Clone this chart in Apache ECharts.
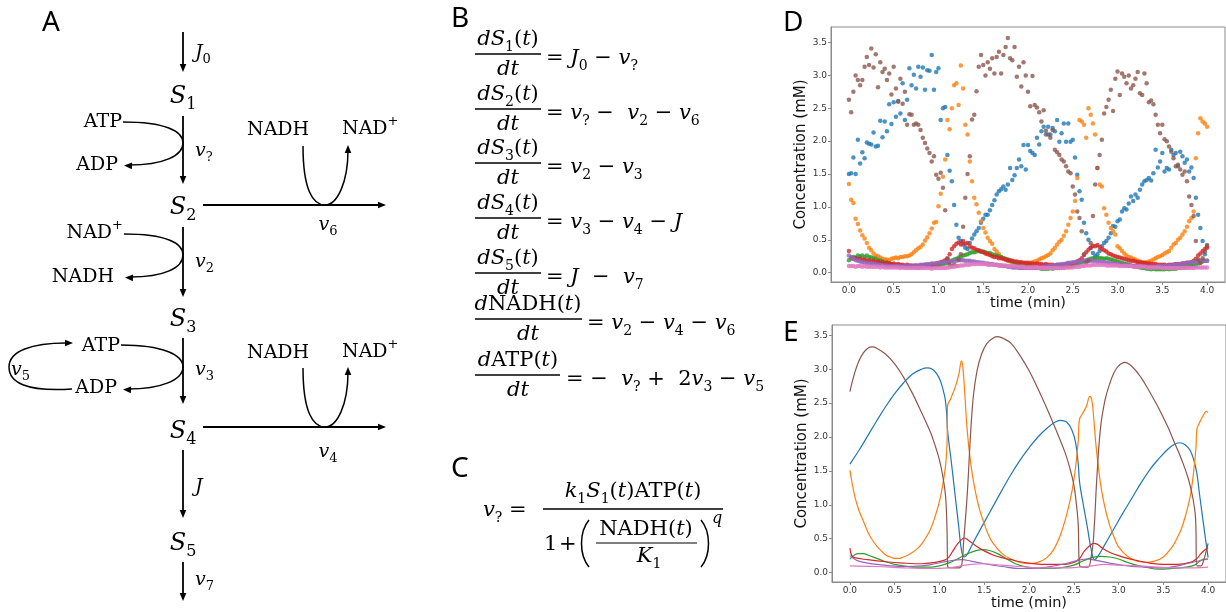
<!doctype html>
<html>
<head>
<meta charset="utf-8">
<title>glycolysis model</title>
<script src="https://cdn.jsdelivr.net/npm/echarts@6/dist/echarts.min.js"></script>
<style>
html, body { margin: 0; padding: 0; background: #fff; }
#main { width: 1226px; height: 612px; }
</style>
</head>
<body>
<div id="main"></div>
<script>
// ---- panel D: sampled data, one value every 0.025 min (rows = 0.25 min) ----
var dTime = [];
for (var i = 0; i <= 160; i++) dTime.push(i / 40);

var dBlue = [
  1.50, 1.51, 1.75, 1.50, 2.02, 1.66, 1.83, 1.74, 1.98, 1.96,
  1.95, 2.13, 1.92, 1.93, 2.31, 2.06, 2.30, 2.15, 2.56, 2.26,
  2.59, 2.37, 2.61, 2.42, 2.88, 2.32, 2.63, 3.11, 2.85, 3.01,
  2.80, 3.13, 2.98, 3.12, 2.78, 3.08, 3.07, 3.31, 2.78, 3.05,
  3.11, 2.32, 2.50, 2.52, 1.79, 1.55, 1.39, 1.03, 0.73, 0.53,
  0.48, 0.43, 0.38, 0.36, 0.45, 0.52, 0.58, 0.63, 0.68, 0.76,
  0.82, 0.88, 0.88, 0.95, 1.03, 1.10, 1.19, 1.24, 1.27, 1.31,
  1.26, 1.34, 1.59, 1.41, 1.48, 1.59, 1.72, 1.62, 1.94, 1.57,
  1.94, 1.85, 1.82, 1.79, 2.05, 1.95, 2.15, 2.22, 2.10, 2.22,
  2.10, 2.20, 2.15, 2.32, 1.99, 2.12, 2.27, 1.99, 2.27, 1.99,
  2.02, 1.75, 1.49, 1.24, 1.11, 0.76, 0.60, 0.50, 0.38, 0.30,
  0.25, 0.28, 0.33, 0.40, 0.45, 0.48, 0.53, 0.60, 0.71, 0.70,
  0.78, 0.81, 0.93, 0.98, 0.96, 1.05, 1.16, 1.09, 1.19, 1.14,
  1.26, 1.34, 1.39, 1.41, 1.44, 1.40, 1.51, 1.87, 1.60, 1.69,
  1.82, 1.54, 1.59, 1.57, 1.87, 1.79, 1.82, 1.62, 1.84, 1.77,
  1.67, 1.72, 1.54, 1.60, 1.44, 1.14, 0.88, 0.68, 0.48, 0.28,
  0.40
];
var dOrange = [
  1.35, 1.11, 1.06, 0.82, 0.74, 0.64, 0.57, 0.52, 0.45, 0.38,
  0.34, 0.29, 0.26, 0.25, 0.23, 0.21, 0.20, 0.20, 0.19, 0.21,
  0.22, 0.23, 0.22, 0.24, 0.24, 0.25, 0.25, 0.26, 0.28, 0.31,
  0.34, 0.37, 0.39, 0.43, 0.49, 0.54, 0.60, 0.67, 0.76, 0.77,
  1.01, 1.20, 1.46, 1.72, 2.32, 2.18, 2.50, 2.85, 2.88, 2.55,
  3.15, 2.80, 2.25, 2.10, 1.69, 1.39, 1.14, 1.04, 0.91, 0.78,
  0.68, 0.61, 0.53, 0.48, 0.44, 0.36, 0.32, 0.28, 0.24, 0.22,
  0.20, 0.18, 0.17, 0.16, 0.15, 0.15, 0.14, 0.15, 0.14, 0.13,
  0.14, 0.15, 0.16, 0.17, 0.18, 0.20, 0.22, 0.23, 0.25, 0.27,
  0.29, 0.34, 0.38, 0.43, 0.47, 0.50, 0.56, 0.63, 0.73, 0.83,
  0.93, 1.09, 1.44, 2.32, 2.30, 2.25, 2.05, 2.50, 2.40, 2.27,
  2.10, 1.59, 1.34, 1.31, 0.98, 0.88, 0.76, 0.68, 0.63, 0.58,
  0.40, 0.37, 0.33, 0.29, 0.26, 0.24, 0.23, 0.21, 0.20, 0.18,
  0.17, 0.16, 0.15, 0.16, 0.17, 0.18, 0.20, 0.22, 0.24, 0.25,
  0.27, 0.29, 0.31, 0.33, 0.38, 0.43, 0.45, 0.50, 0.53, 0.58,
  0.63, 0.70, 0.78, 0.83, 0.93, 1.74, 2.12, 2.35, 2.30, 2.27,
  2.22
];
var dGreen = [
  0.19, 0.22, 0.24, 0.23, 0.26, 0.25, 0.26, 0.24, 0.26, 0.24,
  0.23, 0.22, 0.21, 0.19, 0.18, 0.17, 0.15, 0.15, 0.14, 0.13,
  0.12, 0.12, 0.11, 0.11, 0.10, 0.10, 0.09, 0.10, 0.09, 0.09,
  0.09, 0.08, 0.09, 0.09, 0.09, 0.10, 0.10, 0.10, 0.11, 0.11,
  0.11, 0.12, 0.13, 0.14, 0.15, 0.17, 0.18, 0.20, 0.21, 0.23,
  0.24, 0.26, 0.27, 0.28, 0.30, 0.31, 0.31, 0.32, 0.33, 0.32,
  0.32, 0.31, 0.30, 0.30, 0.28, 0.27, 0.26, 0.25, 0.24, 0.22,
  0.21, 0.20, 0.18, 0.17, 0.15, 0.14, 0.13, 0.12, 0.11, 0.10,
  0.10, 0.09, 0.08, 0.08, 0.07, 0.07, 0.06, 0.06, 0.06, 0.06,
  0.07, 0.06, 0.07, 0.07, 0.07, 0.08, 0.08, 0.09, 0.09, 0.10,
  0.11, 0.12, 0.13, 0.14, 0.16, 0.17, 0.18, 0.20, 0.21, 0.22,
  0.22, 0.23, 0.22, 0.22, 0.21, 0.22, 0.21, 0.20, 0.19, 0.18,
  0.17, 0.16, 0.15, 0.14, 0.13, 0.12, 0.11, 0.10, 0.09, 0.09,
  0.08, 0.07, 0.07, 0.06, 0.06, 0.05, 0.06, 0.05, 0.05, 0.05,
  0.05, 0.05, 0.06, 0.05, 0.06, 0.06, 0.06, 0.07, 0.07, 0.08,
  0.08, 0.09, 0.09, 0.10, 0.11, 0.12, 0.14, 0.15, 0.17, 0.18,
  0.18
];
var dRed = [
  0.33, 0.23, 0.21, 0.22, 0.20, 0.21, 0.19, 0.20, 0.18, 0.19,
  0.17, 0.18, 0.16, 0.17, 0.15, 0.16, 0.14, 0.15, 0.14, 0.13,
  0.14, 0.12, 0.13, 0.12, 0.12, 0.11, 0.12, 0.11, 0.11, 0.10,
  0.11, 0.10, 0.11, 0.11, 0.12, 0.11, 0.12, 0.13, 0.12, 0.14,
  0.14, 0.16, 0.17, 0.19, 0.21, 0.28, 0.36, 0.40, 0.44, 0.46,
  0.43, 0.48, 0.44, 0.45, 0.40, 0.38, 0.37, 0.35, 0.34, 0.32,
  0.31, 0.29, 0.28, 0.27, 0.25, 0.24, 0.24, 0.22, 0.22, 0.21,
  0.20, 0.19, 0.19, 0.18, 0.17, 0.17, 0.16, 0.16, 0.15, 0.15,
  0.15, 0.14, 0.14, 0.13, 0.14, 0.13, 0.13, 0.12, 0.13, 0.12,
  0.12, 0.12, 0.11, 0.12, 0.12, 0.11, 0.12, 0.12, 0.13, 0.13,
  0.14, 0.15, 0.17, 0.19, 0.22, 0.27, 0.31, 0.35, 0.38, 0.41,
  0.40, 0.42, 0.39, 0.36, 0.34, 0.32, 0.29, 0.28, 0.26, 0.25,
  0.24, 0.23, 0.22, 0.21, 0.20, 0.19, 0.18, 0.18, 0.17, 0.16,
  0.16, 0.15, 0.15, 0.14, 0.14, 0.13, 0.13, 0.13, 0.12, 0.12,
  0.12, 0.12, 0.11, 0.12, 0.12, 0.12, 0.13, 0.13, 0.13, 0.14,
  0.14, 0.15, 0.15, 0.16, 0.18, 0.21, 0.26, 0.29, 0.33, 0.36,
  0.38
];
var dPurple = [
  0.26, 0.23, 0.21, 0.19, 0.18, 0.17, 0.16, 0.15, 0.15, 0.14,
  0.14, 0.13, 0.13, 0.12, 0.12, 0.11, 0.11, 0.11, 0.10, 0.10,
  0.10, 0.10, 0.10, 0.10, 0.09, 0.10, 0.10, 0.10, 0.10, 0.11,
  0.11, 0.11, 0.12, 0.12, 0.12, 0.13, 0.13, 0.14, 0.14, 0.14,
  0.15, 0.15, 0.16, 0.16, 0.17, 0.17, 0.18, 0.18, 0.18, 0.19,
  0.19, 0.19, 0.18, 0.18, 0.18, 0.17, 0.17, 0.16, 0.16, 0.15,
  0.15, 0.14, 0.14, 0.13, 0.13, 0.12, 0.12, 0.11, 0.11, 0.10,
  0.10, 0.09, 0.09, 0.08, 0.08, 0.08, 0.07, 0.07, 0.07, 0.07,
  0.07, 0.07, 0.07, 0.07, 0.08, 0.08, 0.08, 0.09, 0.09, 0.10,
  0.10, 0.11, 0.11, 0.12, 0.12, 0.13, 0.13, 0.14, 0.15, 0.15,
  0.16, 0.16, 0.17, 0.17, 0.18, 0.18, 0.19, 0.19, 0.18, 0.18,
  0.18, 0.17, 0.17, 0.16, 0.16, 0.15, 0.15, 0.14, 0.14, 0.13,
  0.13, 0.12, 0.12, 0.12, 0.11, 0.11, 0.11, 0.10, 0.10, 0.10,
  0.10, 0.09, 0.09, 0.09, 0.09, 0.09, 0.09, 0.09, 0.10, 0.10,
  0.10, 0.10, 0.11, 0.11, 0.11, 0.12, 0.12, 0.13, 0.13, 0.14,
  0.14, 0.15, 0.15, 0.16, 0.16, 0.17, 0.17, 0.18, 0.18, 0.18,
  0.18
];
var dBrown = [
  2.63, 2.44, 2.75, 3.00, 2.93, 2.85, 2.93, 3.13, 3.28, 3.16,
  3.41, 3.12, 3.32, 2.82, 3.20, 3.05, 3.10, 2.93, 3.03, 2.71,
  3.13, 2.80, 2.60, 2.95, 2.57, 2.75, 2.25, 2.41, 2.40, 2.25,
  2.27, 2.25, 2.17, 2.05, 1.97, 1.89, 1.82, 1.69, 1.77, 1.49,
  1.43, 1.52, 1.29, 0.95, 0.22, 0.12, 0.10, 0.12, 0.10, 0.20,
  0.28, 0.70, 1.14, 1.50, 1.77, 2.33, 2.40, 2.76, 3.13, 3.31,
  3.16, 3.00, 3.20, 3.10, 3.26, 3.03, 3.28, 3.36, 3.03, 3.31,
  3.43, 3.57, 3.26, 3.23, 3.43, 2.98, 3.13, 2.83, 3.20, 3.00,
  2.75, 2.53, 2.99, 2.55, 2.51, 2.44, 2.30, 2.47, 2.16, 2.10,
  2.05, 2.17, 1.87, 1.83, 1.79, 1.72, 1.69, 1.62, 1.54, 1.51,
  1.31, 1.19, 0.93, 0.83, 0.63, 0.28, 0.15, 0.18, 0.45, 0.86,
  1.34, 1.59, 1.79, 2.02, 2.42, 2.52, 2.63, 2.78, 2.46, 2.95,
  3.06, 2.70, 3.03, 2.98, 2.88, 3.00, 2.80, 2.85, 2.95, 3.05,
  2.73, 2.70, 3.03, 2.88, 2.59, 2.62, 2.56, 2.40, 2.25, 2.12,
  2.25, 2.03, 2.00, 1.92, 1.84, 1.74, 1.62, 1.64, 1.57, 1.49,
  1.54, 1.39, 1.16, 1.03, 0.86, 0.48, 0.20, 0.15, 0.22, 0.32,
  0.42
];
var dPink = [
  0.10, 0.10, 0.10, 0.09, 0.10, 0.10, 0.09, 0.10, 0.09, 0.09,
  0.09, 0.09, 0.09, 0.09, 0.08, 0.09, 0.08, 0.08, 0.08, 0.08,
  0.08, 0.08, 0.08, 0.07, 0.08, 0.07, 0.07, 0.07, 0.07, 0.07,
  0.07, 0.07, 0.07, 0.07, 0.07, 0.07, 0.07, 0.06, 0.07, 0.07,
  0.07, 0.07, 0.07, 0.07, 0.08, 0.08, 0.09, 0.09, 0.10, 0.10,
  0.11, 0.11, 0.12, 0.12, 0.12, 0.13, 0.13, 0.13, 0.13, 0.13,
  0.13, 0.13, 0.12, 0.12, 0.12, 0.12, 0.12, 0.11, 0.11, 0.11,
  0.11, 0.10, 0.10, 0.10, 0.10, 0.09, 0.09, 0.09, 0.09, 0.08,
  0.08, 0.08, 0.08, 0.08, 0.08, 0.07, 0.07, 0.07, 0.07, 0.07,
  0.07, 0.07, 0.07, 0.07, 0.07, 0.07, 0.07, 0.08, 0.08, 0.08,
  0.08, 0.09, 0.09, 0.09, 0.10, 0.10, 0.11, 0.11, 0.11, 0.12,
  0.12, 0.12, 0.12, 0.12, 0.12, 0.11, 0.11, 0.11, 0.11, 0.11,
  0.11, 0.10, 0.10, 0.10, 0.10, 0.10, 0.10, 0.09, 0.09, 0.09,
  0.09, 0.09, 0.09, 0.08, 0.08, 0.08, 0.08, 0.08, 0.08, 0.08,
  0.07, 0.07, 0.07, 0.07, 0.07, 0.07, 0.07, 0.07, 0.07, 0.07,
  0.07, 0.07, 0.07, 0.07, 0.07, 0.08, 0.08, 0.08, 0.08, 0.08,
  0.08
];

// ---- panel E: fitted curves, [time, value] ----
var eBlue = [[0,1.60],[0.1,1.80],[0.2,2.02],[0.3,2.24],[0.4,2.45],[0.5,2.64],[0.6,2.80],[0.7,2.93],[0.8,3.00],[0.86,3.02],[0.92,3.00],[0.97,2.93],[1.01,2.83],[1.04,2.70],[1.065,2.55],[1.08,2.35],[1.09,2.10],[1.13,1.66],[1.17,1.20],[1.21,0.74],[1.25,0.30],[1.28,0.23],[1.31,0.27],[1.4,0.50],[1.5,0.74],[1.6,0.98],[1.7,1.22],[1.8,1.45],[1.9,1.66],[2.0,1.84],[2.1,2.00],[2.2,2.13],[2.28,2.21],[2.35,2.245],[2.42,2.22],[2.48,2.10],[2.52,1.92],[2.55,1.60],[2.565,1.33],[2.6,1.05],[2.65,0.68],[2.7,0.30],[2.73,0.19],[2.76,0.22],[2.85,0.42],[2.95,0.65],[3.05,0.88],[3.15,1.10],[3.25,1.32],[3.35,1.52],[3.45,1.68],[3.55,1.82],[3.62,1.89],[3.68,1.915],[3.74,1.89],[3.8,1.80],[3.84,1.66],[3.875,1.46],[3.9,1.20],[3.95,0.70],[4.0,0.22]];
var eOrange = [[0,1.51],[0.05,1.15],[0.1,0.92],[0.15,0.76],[0.2,0.60],[0.25,0.48],[0.3,0.39],[0.35,0.32],[0.4,0.26],[0.45,0.23],[0.5,0.21],[0.55,0.21],[0.6,0.23],[0.65,0.26],[0.7,0.30],[0.75,0.35],[0.8,0.42],[0.85,0.52],[0.9,0.64],[0.95,0.82],[1.0,1.05],[1.04,1.32],[1.07,1.60],[1.085,1.90],[1.09,2.45],[1.13,2.58],[1.18,2.75],[1.22,2.95],[1.245,3.12],[1.26,3.05],[1.28,2.70],[1.31,2.10],[1.35,1.60],[1.4,1.20],[1.45,0.92],[1.5,0.72],[1.55,0.55],[1.6,0.43],[1.7,0.28],[1.8,0.20],[1.9,0.15],[2.0,0.13],[2.1,0.15],[2.2,0.22],[2.28,0.35],[2.35,0.55],[2.42,0.85],[2.48,1.20],[2.52,1.55],[2.55,1.95],[2.562,2.25],[2.6,2.35],[2.64,2.45],[2.68,2.60],[2.7,2.55],[2.72,2.32],[2.75,1.85],[2.8,1.30],[2.85,0.95],[2.9,0.70],[2.95,0.52],[3.0,0.38],[3.1,0.24],[3.2,0.17],[3.3,0.15],[3.4,0.17],[3.5,0.23],[3.6,0.38],[3.65,0.50],[3.7,0.64],[3.75,0.85],[3.8,1.12],[3.84,1.50],[3.865,1.85],[3.875,2.12],[3.9,2.20],[3.93,2.28],[3.96,2.35],[3.98,2.38],[4.0,2.36]];
var eGreen = [[0,0.20],[0.05,0.26],[0.1,0.28],[0.15,0.28],[0.2,0.26],[0.3,0.21],[0.4,0.16],[0.5,0.12],[0.6,0.10],[0.7,0.08],[0.8,0.08],[0.9,0.08],[1.0,0.10],[1.1,0.14],[1.2,0.20],[1.3,0.27],[1.4,0.32],[1.48,0.34],[1.55,0.33],[1.65,0.28],[1.75,0.20],[1.85,0.13],[1.95,0.09],[2.05,0.07],[2.2,0.06],[2.35,0.07],[2.5,0.11],[2.6,0.17],[2.7,0.22],[2.8,0.24],[2.9,0.23],[3.0,0.20],[3.1,0.15],[3.2,0.11],[3.3,0.08],[3.45,0.05],[3.6,0.06],[3.75,0.08],[3.85,0.11],[3.9,0.16],[3.95,0.20],[4.0,0.20]];
var eRed = [[0,0.36],[0.02,0.25],[0.05,0.22],[0.2,0.19],[0.4,0.16],[0.6,0.14],[0.8,0.13],[0.95,0.15],[1.05,0.18],[1.1,0.22],[1.15,0.32],[1.2,0.42],[1.25,0.49],[1.28,0.51],[1.32,0.48],[1.4,0.40],[1.5,0.32],[1.6,0.26],[1.7,0.22],[1.8,0.19],[1.9,0.16],[2.0,0.14],[2.2,0.12],[2.4,0.12],[2.5,0.15],[2.56,0.20],[2.62,0.32],[2.68,0.40],[2.72,0.43],[2.76,0.42],[2.82,0.36],[2.9,0.30],[3.0,0.25],[3.1,0.21],[3.2,0.18],[3.35,0.14],[3.5,0.12],[3.65,0.12],[3.8,0.15],[3.87,0.20],[3.92,0.28],[3.96,0.33],[4.0,0.37]];
var ePurple = [[0,0.25],[0.05,0.20],[0.1,0.17],[0.2,0.14],[0.3,0.12],[0.45,0.10],[0.6,0.09],[0.8,0.10],[0.95,0.13],[1.1,0.17],[1.25,0.19],[1.35,0.17],[1.5,0.13],[1.7,0.09],[1.9,0.06],[2.05,0.06],[2.2,0.08],[2.4,0.13],[2.55,0.18],[2.65,0.20],[2.75,0.18],[2.9,0.14],[3.1,0.10],[3.3,0.08],[3.5,0.07],[3.7,0.11],[3.85,0.16],[4.0,0.20]];
var eBrown = [[0,2.67],[0.05,2.93],[0.1,3.12],[0.15,3.24],[0.2,3.31],[0.25,3.33],[0.3,3.31],[0.4,3.22],[0.5,3.08],[0.6,2.88],[0.7,2.64],[0.8,2.36],[0.9,2.07],[0.95,1.88],[1.0,1.66],[1.04,1.40],[1.07,1.10],[1.085,0.60],[1.093,0.08],[1.15,0.07],[1.22,0.07],[1.25,0.12],[1.27,0.45],[1.31,1.15],[1.35,2.10],[1.38,2.62],[1.42,2.98],[1.47,3.22],[1.53,3.38],[1.6,3.46],[1.65,3.48],[1.72,3.45],[1.8,3.38],[1.9,3.20],[2.0,2.98],[2.1,2.71],[2.2,2.42],[2.3,2.11],[2.4,1.78],[2.45,1.57],[2.5,1.30],[2.53,1.00],[2.55,0.70],[2.562,0.12],[2.6,0.08],[2.66,0.08],[2.69,0.20],[2.72,0.50],[2.76,1.45],[2.8,2.15],[2.85,2.55],[2.9,2.78],[2.95,2.95],[3.0,3.05],[3.07,3.10],[3.15,3.04],[3.25,2.88],[3.35,2.66],[3.45,2.42],[3.55,2.15],[3.63,1.90],[3.7,1.68],[3.78,1.38],[3.83,1.10],[3.86,0.80],[3.875,0.10],[3.92,0.10],[3.95,0.18],[3.98,0.32],[4.0,0.43]];
var ePink = [[0,0.10],[0.3,0.09],[0.6,0.07],[0.9,0.06],[1.1,0.07],[1.2,0.09],[1.35,0.12],[1.5,0.13],[1.7,0.11],[1.9,0.09],[2.1,0.07],[2.4,0.07],[2.55,0.08],[2.7,0.10],[2.85,0.12],[3.0,0.11],[3.2,0.10],[3.45,0.08],[3.7,0.07],[3.85,0.07],[4.0,0.08]];

var tickX = [0, 0.5, 1, 1.5, 2, 2.5, 3, 3.5, 4];
var tickY = [0, 0.5, 1, 1.5, 2, 2.5, 3, 3.5];
var COLORS = ['#1f77b4', '#ff7f0e', '#2ca02c', '#d62728', '#9467bd', '#8c564b', '#e377c2'];

// ---------- drawing helpers for panels A, B, C ----------
var INK = '#000';
var MF = 'DejaVu Serif';
var SF = 'Noto Sans';

function richSet(size) {
  var sub = Math.round(size * 0.68);
  return {
    r: { fontFamily: MF, fontSize: size, lineHeight: size + 8, fill: INK },
    i: { fontFamily: MF, fontSize: size, fontStyle: 'italic', lineHeight: size + 8, fill: INK },
    s: { fontFamily: MF, fontSize: sub, lineHeight: sub, verticalAlign: 'bottom', fill: INK },
    p: { fontFamily: MF, fontSize: sub, lineHeight: sub, verticalAlign: 'top', fill: INK }
  };
}
// '*x*' italic, '_c' subscript char, '^c' superscript char
function rt(s) {
  var out = '', buf = '', mode = 'r';
  function flush() { if (buf) { out += '{' + mode + '|' + buf + '}'; buf = ''; } }
  for (var k = 0; k < s.length; k++) {
    var c = s[k];
    if (c === '*') { flush(); mode = mode === 'i' ? 'r' : 'i'; }
    else if (c === '_' || c === '^') { flush(); out += '{' + (c === '_' ? 's' : 'p') + '|' + s[++k] + '}'; }
    else buf += c;
  }
  flush();
  return out;
}
function txt(x, y, s, size, align) {
  return {
    type: 'text', x: x, y: y, silent: true,
    style: {
      text: rt(s), rich: richSet(size), fill: INK,
      fontFamily: MF, fontSize: size,
      align: align || 'left', verticalAlign: 'middle',
      textAlign: align || 'left', textVerticalAlign: 'middle'
    }
  };
}
function panel(x, y, s) {
  return {
    type: 'text', x: x, y: y, silent: true,
    style: { text: s, fill: INK, fontFamily: SF, fontSize: 28, align: 'left', verticalAlign: 'middle', textAlign: 'left', textVerticalAlign: 'middle' }
  };
}
function seg(x1, y1, x2, y2, w) {
  return { type: 'line', silent: true, shape: { x1: x1, y1: y1, x2: x2, y2: y2 }, style: { stroke: INK, lineWidth: w || 1.8 } };
}
function head(x, y, ang) {
  var L = 8, W = 3.3;
  var bx = x - L * Math.cos(ang), by = y - L * Math.sin(ang);
  var nx = -Math.sin(ang) * W, ny = Math.cos(ang) * W;
  return { type: 'polygon', silent: true, shape: { points: [[x, y], [bx + nx, by + ny], [bx - nx, by - ny]] }, style: { fill: INK } };
}
function arrow(x1, y1, x2, y2) {
  var a = Math.atan2(y2 - y1, x2 - x1);
  return [seg(x1, y1, x2 - 6 * Math.cos(a), y2 - 6 * Math.sin(a)), head(x2, y2, a)];
}
function curve(x1, y1, c1x, c1y, c2x, c2y, x2, y2) {
  return {
    type: 'bezierCurve', silent: true,
    shape: { x1: x1, y1: y1, cpx1: c1x, cpy1: c1y, cpx2: c2x, cpy2: c2y, x2: x2, y2: y2 },
    style: { stroke: INK, lineWidth: 1.5, fill: 'none' }
  };
}
// side loop that touches the main axis: from (x0,y0) to axis point, then back to tip
function sideLoop(x0, y0, ym, xt, yt) {
  return [
    curve(x0, y0, x0 + 42, y0, 183, ym - 12, 183, ym),
    curve(183, ym, 183, ym + 13, x0 + 40, yt, xt + 5, yt),
    head(xt, yt + 0.5, Math.PI + 0.05)
  ];
}
function uLoop(yTop, yBase) {
  return [
    curve(303, yTop, 303, yBase - 15, 313, yBase, 325, yBase),
    curve(325, yBase, 337, yBase, 348, yBase - 22, 348, yTop + 4),
    head(348, yTop - 1, -Math.PI / 2)
  ];
}
function frac(cx, barY, x1, x2, num, den, rhsX, rhs) {
  return [
    txt(cx, barY - 14, num, 21, 'center'),
    seg(x1, barY, x2, barY, 1.3),
    txt(cx, barY + 16, den, 21, 'center'),
    txt(rhsX, barY + 5, rhs, 21, 'left')
  ];
}

var G = [];
function add(a) { G = G.concat(a); }

// ---- panel A ----
add(panel(42, 23, 'A'));
add(arrow(183, 32, 183, 72));
add(txt(195, 53, '*J*_0', 19));
add(txt(183, 97, '*S*_1', 24, 'center'));
add(arrow(183, 116, 183, 184));
add(txt(122, 122, 'ATP', 19, 'right'));
add(sideLoop(123, 122, 143, 124, 165));
add(txt(118, 165, 'ADP', 19, 'right'));
add(txt(195, 151, '*v*_?', 19));
add(txt(183, 208, '*S*_2', 24, 'center'));
add(arrow(203, 205, 386, 205));
add(txt(247, 130, 'NADH', 19));
add(txt(342, 129, 'NAD^+', 19));
add(uLoop(146, 205));
add(txt(328, 225, '*v*_6', 19, 'center'));
add(arrow(183, 227, 183, 297));
add(txt(123, 233, 'NAD^+', 19, 'right'));
add(sideLoop(124, 234, 255, 125, 277));
add(txt(114, 277, 'NADH', 19, 'right'));
add(txt(195, 262, '*v*_2', 19));
add(txt(183, 320, '*S*_3', 24, 'center'));
add(arrow(183, 338, 183, 404));
add(txt(120, 346, 'ATP', 19, 'right'));
add(sideLoop(121, 345, 367, 123, 389));
add(txt(117, 388, 'ADP', 19, 'right'));
add(curve(72, 389, 25, 392, 9, 382, 9, 367));
add(curve(9, 367, 9, 351, 32, 343, 66, 343));
add(head(73, 343, 0));
add(txt(11, 370, '*v*_5', 19));
add(txt(195, 370, '*v*_3', 19));
add(txt(183, 432, '*S*_4', 24, 'center'));
add(arrow(203, 427, 386, 427));
add(txt(247, 353, 'NADH', 19));
add(txt(342, 352, 'NAD^+', 19));
add(uLoop(368, 427));
add(txt(328, 452, '*v*_4', 19, 'center'));
add(arrow(183, 450, 183, 518));
add(txt(195, 487, '*J*', 19));
add(txt(183, 544, '*S*_5', 24, 'center'));
add(arrow(183, 562, 183, 601));
add(txt(195, 580, '*v*_7', 19));

// ---- panel B ----
add(panel(451, 19, 'B'));
add(frac(508, 54, 475, 541, '*dS*_1(*t*)', '*dt*', 546, '= *J*_0 − *v*_?'));
add(frac(508, 109, 475, 541, '*dS*_2(*t*)', '*dt*', 546, '= *v*_? −  *v*_2 − *v*_6'));
add(frac(508, 163, 475, 541, '*dS*_3(*t*)', '*dt*', 546, '= *v*_2 − *v*_3'));
add(frac(508, 218, 475, 541, '*dS*_4(*t*)', '*dt*', 546, '= *v*_3 − *v*_4 − *J*'));
add(frac(508, 273, 475, 541, '*dS*_5(*t*)', '*dt*', 546, '= *J*  −  *v*_7'));
add(frac(528, 319, 475, 582, '*d*NADH(*t*)', '*dt*', 587, '= *v*_2 − *v*_4 − *v*_6'));
add(frac(518, 375, 475, 560, '*d*ATP(*t*)', '*dt*', 566, '= −  *v*_? +  2*v*_3 − *v*_5'));

// ---- panel C ----
add(panel(451, 469, 'C'));
add(txt(483, 511, '*v*_? = ', 21));
add(txt(633, 492, '*k*_1*S*_1(*t*)ATP(*t*)', 21, 'center'));
add(seg(543, 509, 723, 509, 1.3));
add(txt(544, 545, '1', 21));
add(txt(559, 545, '+', 21));
add(curve(589, 520, 579, 532, 579, 555, 589, 567));
add(curve(701, 520, 711, 532, 711, 555, 701, 567));
add(txt(646, 530, 'NADH(*t*)', 21, 'center'));
add(seg(596, 543, 697, 543, 1.2));
add(txt(649, 557, '*K*_1', 21, 'center'));
add(txt(712, 519, '*q*', 16));

// ---- panels D, E letters ----
add(panel(783, 23, 'D'));
add(panel(783, 333, 'E'));

// ---------- axes ----------
function xAx(gi) {
  return {
    type: 'value', gridIndex: gi, min: -0.2, max: 4.2,
    name: 'time (min)', nameLocation: 'middle', nameGap: 12,
    nameTextStyle: { fontFamily: 'DejaVu Sans', fontSize: 14.5, color: '#111' },
    axisLine: { show: true, onZero: false, lineStyle: { color: '#8a8a8a', width: 1 } },
    axisTick: { show: true, length: 3, customValues: tickX, lineStyle: { color: '#8a8a8a' } },
    axisLabel: { customValues: tickX, formatter: function (v) { return v.toFixed(1); }, fontFamily: 'DejaVu Sans', fontSize: 9, color: '#333', margin: 4 },
    splitLine: { show: false }
  };
}
function yAx(gi, lo, hi) {
  return {
    type: 'value', gridIndex: gi, min: lo, max: hi,
    name: 'Concentration (mM)', nameLocation: 'middle', nameGap: 22,
    nameTextStyle: { fontFamily: 'DejaVu Sans', fontSize: 15, color: '#111' },
    axisLine: { show: true, onZero: false, lineStyle: { color: '#8a8a8a', width: 1 } },
    axisTick: { show: true, length: 3, customValues: tickY, lineStyle: { color: '#8a8a8a' } },
    axisLabel: { customValues: tickY, formatter: function (v) { return v.toFixed(1); }, fontFamily: 'DejaVu Sans', fontSize: 9, color: '#333', margin: 4 },
    splitLine: { show: false }
  };
}

var dSets = [dBlue, dOrange, dGreen, dRed, dPurple, dBrown, dPink];
var eSets = [eBlue, eOrange, eGreen, eRed, ePurple, eBrown, ePink];
var series = [];
dSets.forEach(function (vals, k) {
  series.push({
    type: 'scatter', xAxisIndex: 0, yAxisIndex: 0, silent: true,
    symbol: 'circle', symbolSize: 4.5,
    itemStyle: { color: COLORS[k] },
    data: vals.map(function (v, j) { return [dTime[j], v]; })
  });
});
eSets.forEach(function (pts, k) {
  series.push({
    type: 'line', xAxisIndex: 1, yAxisIndex: 1, silent: true,
    showSymbol: false, smooth: 0.4,
    lineStyle: { color: COLORS[k], width: 1.2 },
    data: pts
  });
});

var chart = echarts.init(document.getElementById('main'));
chart.setOption({
  animation: false,
  backgroundColor: '#fff',
  grid: [
    { left: 831, top: 27, right: 1, bottom: 330, show: true, borderColor: '#8a8a8a', borderWidth: 1 },
    { left: 832, top: 325, right: 0, bottom: 30, show: true, borderColor: '#8a8a8a', borderWidth: 1 }
  ],
  xAxis: [xAx(0), xAx(1)],
  yAxis: [yAx(0, -0.142, 3.736), yAx(1, -0.139, 3.652)],
  series: series,
  graphic: { elements: G }
});
</script>
</body>
</html>
